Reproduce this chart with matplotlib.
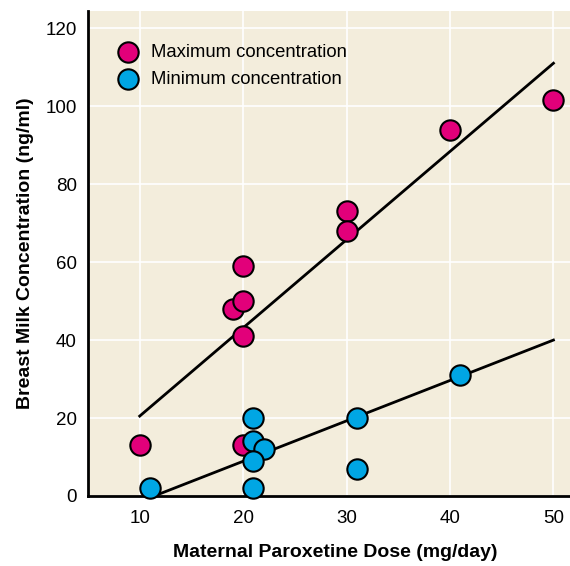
import matplotlib
matplotlib.use("Agg")
import matplotlib.pyplot as plt

# Data
max_dose = [10, 19, 20, 20, 20, 20, 30, 30, 40, 50]
max_conc = [13, 48, 50, 41, 59, 13, 73, 68, 94, 101.5]
min_dose = [11, 21, 21, 22, 21, 21, 31, 31, 41]
min_conc = [2, 20, 14, 12, 9, 2, 20, 7, 31]
fit_max_x = [10, 50]
fit_max_y = [20.5, 111]
fit_min_x = [11.4, 50]
fit_min_y = [0, 40]
x_ticks = [10, 20, 30, 40, 50]
y_ticks = [0, 20, 40, 60, 80, 100, 120]

plt.rcParams['font.family'] = ['Liberation Sans', 'DejaVu Sans']

MAG = '#E2007A'
CYAN = '#00A6E4'
BG = '#F3EDDC'

fig = plt.figure(figsize=(5.7, 5.66), dpi=100)
ax = fig.add_axes([88/570, 1-496/566, 1-88/570, (496-11)/566])
ax.set_facecolor(BG)
ax.set_xlim(5, 51.6)
ax.set_ylim(0, 124.4)
ax.set_xticks(x_ticks)
ax.set_yticks(y_ticks)
ax.grid(True, color='white', linewidth=1.2)
ax.set_axisbelow(True)
ax.tick_params(axis='y', length=0, labelsize=13.5, pad=8)
ax.tick_params(axis='x', length=0, labelsize=13.5, pad=10)
for s in ['top', 'right']:
    ax.spines[s].set_visible(False)
for s in ['left', 'bottom']:
    ax.spines[s].set_linewidth(2)
    ax.spines[s].set_color('black')

ax.plot(fit_max_x, fit_max_y, color='black', lw=2, zorder=2, clip_on=False)
ax.plot(fit_min_x, fit_min_y, color='black', lw=2, zorder=2, clip_on=False)

ax.scatter(max_dose, max_conc, s=215, c=MAG, edgecolors='black', linewidths=1.5,
           zorder=3, clip_on=False, label='Maximum concentration')
ax.scatter(min_dose, min_conc, s=215, c=CYAN, edgecolors='black', linewidths=1.5,
           zorder=4, clip_on=False, label='Minimum concentration')

leg = ax.legend(loc='upper left', frameon=False, fontsize=13.3, handletextpad=0.25,
                borderaxespad=0.0, bbox_to_anchor=(0.029, 0.948), labelspacing=0.55)

ax.set_xlabel('Maternal Paroxetine Dose (mg/day)', fontsize=14, fontweight='bold', labelpad=12)
ax.xaxis.label.set_x(0.512)
ax.set_ylabel('Breast Milk Concentration (ng/ml)', fontsize=14, fontweight='bold', labelpad=8.5)

fig.savefig('out.png', dpi=100)
